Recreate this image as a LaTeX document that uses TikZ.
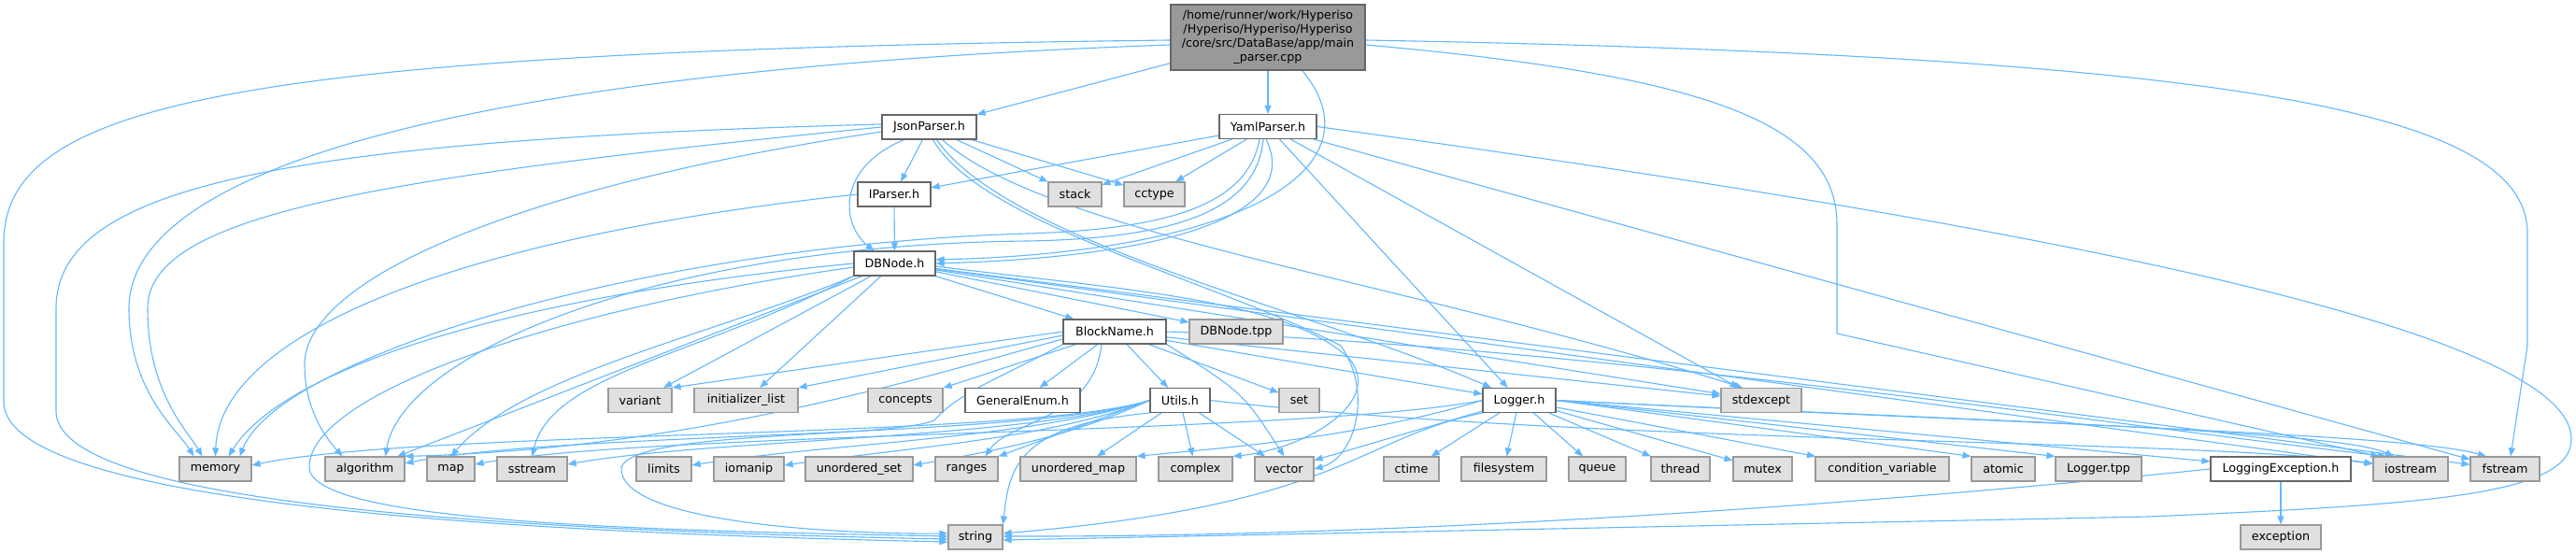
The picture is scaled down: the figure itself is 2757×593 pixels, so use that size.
\documentclass[tikz,border=0pt]{standalone}
\usepackage{fontspec}
\setmainfont{DejaVu Sans}
\usetikzlibrary{arrows.meta}
\definecolor{edgeblue}{HTML}{63B8FF}
\definecolor{bordergray}{HTML}{999999}
\definecolor{fillgray}{HTML}{E0E0E0}
\definecolor{borderdark}{HTML}{666666}
\definecolor{mainfill}{HTML}{999999}
\newcommand{\nodefont}{\fontsize{12.7}{15}\selectfont}
\pgfdeclarelayer{edges}
\pgfsetlayers{edges,main}
\begin{document}
\begin{tikzpicture}[x=1pt,y=-1pt,
  gbox/.style={draw=bordergray, fill=fillgray, line width=1.1pt, minimum height=26pt, inner sep=0pt, font=\nodefont, text=black},
  wbox/.style={gbox, draw=borderdark, fill=white},
  mbox/.style={gbox, draw=borderdark, fill=mainfill},
  edg/.style={draw=edgeblue, line width=1.1pt, line join=round, -{Triangle[length=9pt,width=7pt]}}]
\useasboundingbox (0,0) rectangle (2757,593);
% row 0
\node[mbox, minimum width=208pt, minimum height=70pt, align=center] (main) at (1357,40) {/home/runner/work/Hyperiso\\/Hyperiso/Hyperiso/Hyperiso\\/core/src/DataBase/app/main\\\_parser.cpp};
% row 1
\node[wbox, minimum width=101pt] (json) at (994.5,136) {JsonParser.h};
\node[wbox, minimum width=104pt] (yaml) at (1357,135.5) {YamlParser.h};
% row 2
\node[wbox, minimum width=78pt] (iparser) at (957,208) {IParser.h};
\node[gbox, minimum width=57pt] (stack) at (1150.5,208) {stack};
\node[gbox, minimum width=65pt] (cctype) at (1235.5,208) {cctype};
% row 3
\node[wbox, minimum width=87pt] (dbnode) at (957.5,282) {DBNode.h};
% row 4
\node[wbox, minimum width=110pt] (blockname) at (1193,355) {BlockName.h};
\node[gbox, minimum width=100pt] (dbtpp) at (1323,355) {DBNode.tpp};
% row 5
\node[gbox, minimum width=68pt] (variant) at (685,428.5) {variant};
\node[gbox, minimum width=111pt] (initlist) at (798.5,428.5) {initializer\_list};
\node[gbox, minimum width=80pt] (concepts) at (969,428.5) {concepts};
\node[wbox, minimum width=123pt] (genenum) at (1094.5,428.5) {GeneralEnum.h};
\node[wbox, minimum width=64pt] (utils) at (1263,428.5) {Utils.h};
\node[gbox, minimum width=43pt] (set) at (1390.5,428.5) {set};
\node[wbox, minimum width=78pt] (logger) at (1626,428.5) {Logger.h};
\node[gbox, minimum width=86pt] (stdexcept) at (1885,428.5) {stdexcept};
% row 6
\node[gbox, minimum width=77pt] (memory) at (230.5,502) {memory};
\node[gbox, minimum width=85pt] (algorithm) at (390.5,502) {algorithm};
\node[gbox, minimum width=51pt] (map) at (482.5,502) {map};
\node[gbox, minimum width=75pt] (sstream) at (569.5,502) {sstream};
\node[gbox, minimum width=59pt] (limits) at (710.5,502) {limits};
\node[gbox, minimum width=75pt] (iomanip) at (801.5,502) {iomanip};
\node[gbox, minimum width=115pt] (uset) at (919.5,502) {unordered\_set};
\node[gbox, minimum width=67pt] (ranges) at (1034.5,502) {ranges};
\node[gbox, minimum width=124pt] (umap) at (1154,502) {unordered\_map};
\node[gbox, minimum width=79pt] (complex) at (1279.5,502) {complex};
\node[gbox, minimum width=63pt] (vector) at (1374.5,502) {vector};
\node[gbox, minimum width=59pt] (ctime) at (1510.5,502) {ctime};
\node[gbox, minimum width=91pt] (filesystem) at (1609.5,502) {filesystem};
\node[gbox, minimum width=61pt] (queue) at (1709.5,502) {queue};
\node[gbox, minimum width=63pt] (thread) at (1798.5,502) {thread};
\node[gbox, minimum width=63pt] (mutex) at (1886.5,502) {mutex};
\node[gbox, minimum width=143pt] (condvar) at (2014.5,502) {condition\_variable};
\node[gbox, minimum width=68pt] (atomic) at (2144,502) {atomic};
\node[gbox, minimum width=92pt] (loggertpp) at (2246,502) {Logger.tpp};
\node[wbox, minimum width=150pt] (logexc) at (2441,502) {LoggingException.h};
\node[gbox, minimum width=80pt] (iostream) at (2580,502) {iostream};
\node[gbox, minimum width=74pt] (fstream) at (2681,502) {fstream};
% row 7
\node[gbox, minimum width=58pt] (string) at (1044,575) {string};
\node[gbox, minimum width=86pt] (exception) at (2441,575) {exception};

\begin{pgfonlayer}{edges}
\fill[white] (0,0) rectangle (2757,593);
% main
\draw[edg] (main) -- (json);
\draw[edg] (main) -- (yaml);
\draw[edg] (main.-44) .. controls (1480,180) and (1330,270) .. ([yshift=4pt]dbnode.east);
\draw[edg] ([yshift=-3pt]main.west) .. controls (250,55) and (4,110) .. (4,260) -- (4,430) .. controls (4,530) and (450,568) .. ([yshift=-5pt]string.west);
\draw[edg] ([yshift=-8pt]main.west) .. controls (500,75) and (138,180) .. (138,330) .. controls (138,420) and (190,460) .. ([xshift=-23pt]memory.north);
\draw[edg] ([yshift=-3pt]main.east) .. controls (2400,60) and (2705,120) .. (2705,250) -- (2705,370) -- ([xshift=6pt]fstream.north);
\draw[edg] ([yshift=-8pt]main.east) .. controls (1820,80) and (1966,130) .. (1966,240) -- (1966,357) -- ([xshift=-34pt]iostream.north);
% json
\draw[edg] (json) -- (iparser);
\draw[edg] (json) -- (stack);
\draw[edg] (json) -- (cctype);
\draw[edg] ([xshift=-27pt]json.south) .. controls (895,180) and (900,240) .. ([xshift=-22pt]dbnode.north);
\draw[edg] ([yshift=3pt]json.west) .. controls (300,150) and (60,200) .. (60,330) -- (60,440) .. controls (60,525) and (400,565) .. ([yshift=-2pt]string.west);
\draw[edg] (json.west) .. controls (400,190) and (158,230) .. (158,330) .. controls (158,420) and (200,460) .. ([xshift=-14pt]memory.north);
\draw[edg] ([yshift=-5pt]json.west) .. controls (550,200) and (326,300) .. (326,390) .. controls (326,440) and (350,470) .. ([xshift=-24pt]algorithm.north);
\draw[edg] ([xshift=14pt]json.south) .. controls (1120,250) and (1500,300) .. ([xshift=-20pt]stdexcept.north);
\draw[edg] ([xshift=8pt]json.south) .. controls (1080,260) and (1400,330) .. ([xshift=-30pt]logger.north);
\draw[edg] ([xshift=4pt]json.south) .. controls (1050,240) and (1300,300) .. (1435,370) .. controls (1470,420) and (1450,490) .. (vector.east);
% yaml
\draw[edg] (yaml) -- (iparser);
\draw[edg] (yaml) -- (stack);
\draw[edg] (yaml) -- (cctype);
\draw[edg] ([xshift=-2pt]yaml.south) .. controls (1395,230) and (1250,275) .. (dbnode.east);
\draw[edg] (yaml) -- (logger);
\draw[edg] (yaml) -- (stdexcept);
\draw[edg] (yaml) -- (fstream);
\draw[edg] (yaml.east) .. controls (2250,250) and (2752,360) .. (2752,470) .. controls (2752,530) and (2600,540) .. (2300,553) -- ([yshift=-3pt]string.east);
\draw[edg] ([xshift=-9pt]yaml.south) .. controls (1335,220) and (1250,245) .. (1100,250) .. controls (700,262) and (300,380) .. ([xshift=26pt]memory.north);
\draw[edg] ([xshift=-5pt]yaml.south) .. controls (1345,225) and (1260,255) .. (1100,258) .. controls (700,262) and (430,380) .. ([xshift=22pt]algorithm.north);
% iparser
\draw[edg] (iparser) -- (dbnode);
\draw[edg] (iparser.west) .. controls (480,255) and (235,360) .. (memory.north);
% dbnode
\draw[edg] (dbnode) -- (blockname);
\draw[edg] (dbnode) -- (dbtpp);
\draw[edg] (dbnode.west) .. controls (520,320) and (300,400) .. ([xshift=14pt]memory.north);
\draw[edg] (dbnode) -- (algorithm);
\draw[edg] (dbnode.south west) .. controls (760,360) and (560,400) .. (map.north);
\draw[edg] (dbnode.south west) .. controls (750,380) and (590,400) .. (sstream.north);
\draw[edg] ([yshift=-4pt]dbnode.west) .. controls (600,330) and (331,420) .. (331,500) .. controls (331,560) and (700,568) .. ([yshift=1pt]string.west);
\draw[edg] (dbnode) -- (variant);
\draw[edg] (dbnode) -- (initlist);
\draw[edg] (dbnode) -- (stdexcept);
\draw[edg] (dbnode) -- (iostream);
\draw[edg] (dbnode) -- (fstream);
\draw[edg] ([yshift=-3pt]dbnode.east) .. controls (1200,310) and (1380,320) .. (1445,385) .. controls (1480,430) and (1400,480) .. (complex.north east);
% blockname
\draw[edg] (blockname.west) -- (variant.north east);
\draw[edg] ([yshift=-4pt]blockname.west) -- (initlist.north east);
\draw[edg] (blockname) -- (concepts);
\draw[edg] (blockname) -- (genenum);
\draw[edg] (blockname) -- (utils);
\draw[edg] (blockname) -- (set);
\draw[edg] (blockname) -- (logger);
\draw[edg] (blockname) -- (stdexcept);
\draw[edg] (blockname.south east) .. controls (1330,420) .. (vector.north);
\draw[edg] (blockname.south west) .. controls (1080,400) and (1025,420) .. (1000,450) .. controls (950,470) and (680,460) .. (665,500) .. controls (660,560) and (900,572) .. ([yshift=4pt]string.west);
\draw[edg] ([xshift=-14pt]blockname.south) .. controls (1170,450) and (1080,450) .. ([xshift=20pt]ranges.north);
\draw[edg] ([yshift=-8pt]blockname.west) .. controls (1000,400) and (750,480) .. (algorithm.north east);
\draw[edg] (blockname.east) .. controls (1700,370) and (2300,460) .. ([xshift=-26pt]iostream.north);
% utils
\draw[edg] (utils.west) .. controls (1100,470) and (450,460) .. ([yshift=4pt]memory.east);
\draw[edg] (utils.west) .. controls (1100,470) and (600,462) .. ([yshift=6pt]algorithm.east);
\draw[edg] (utils.west) .. controls (1100,470) and (760,470) .. ([yshift=5pt]sstream.east);
\draw[edg] (utils.west) .. controls (1100,470) and (880,475) .. ([yshift=4pt]limits.east);
\draw[edg] (utils.west) .. controls (1120,470) and (980,478) .. ([yshift=4pt]iomanip.east);
\draw[edg] (utils.west) .. controls (1150,465) and (1080,480) .. ([yshift=4pt]uset.east);
\draw[edg] (utils.west) -- (ranges.north east);
\draw[edg] (utils) -- (umap);
\draw[edg] (utils) -- (complex);
\draw[edg] (utils) -- (vector);
\draw[edg] (utils.south west) .. controls (1090,455) and (1080,500) .. (string.north east);
\draw[edg] (utils.east) .. controls (1700,475) and (2350,470) .. ([yshift=6pt]iostream.west);
% logger
\draw[edg] (logger) -- (ctime);
\draw[edg] (logger) -- (filesystem);
\draw[edg] (logger) -- (queue);
\draw[edg] (logger) -- (thread);
\draw[edg] (logger) -- (mutex);
\draw[edg] (logger) -- (condvar);
\draw[edg] (logger.east) -- (atomic.north west);
\draw[edg] (logger.east) -- (loggertpp.north west);
\draw[edg] (logger.east) -- ([yshift=8pt]logexc.west);
\draw[edg] (logger.east) .. controls (2100,450) and (2500,460) .. ([xshift=-18pt]iostream.north);
\draw[edg] (logger.east) .. controls (2200,455) and (2580,465) .. ([xshift=-20pt]fstream.north);
\draw[edg] (logger.west) .. controls (1450,470) and (1300,480) .. (umap.north east);
\draw[edg] (logger) -- (vector);
\draw[edg] (logger.west) .. controls (1400,465) and (700,462) .. ([yshift=5pt]map.east);
\draw[edg] (logger.south west) .. controls (1450,470) and (1440,540) .. ([yshift=4pt]string.east);
% logging exception
\draw[edg] (logexc) -- (exception);
\draw[edg] (logexc.west) .. controls (2000,540) and (1500,575) .. ([yshift=1pt]string.east);
\end{pgfonlayer}
\end{tikzpicture}
\end{document}
